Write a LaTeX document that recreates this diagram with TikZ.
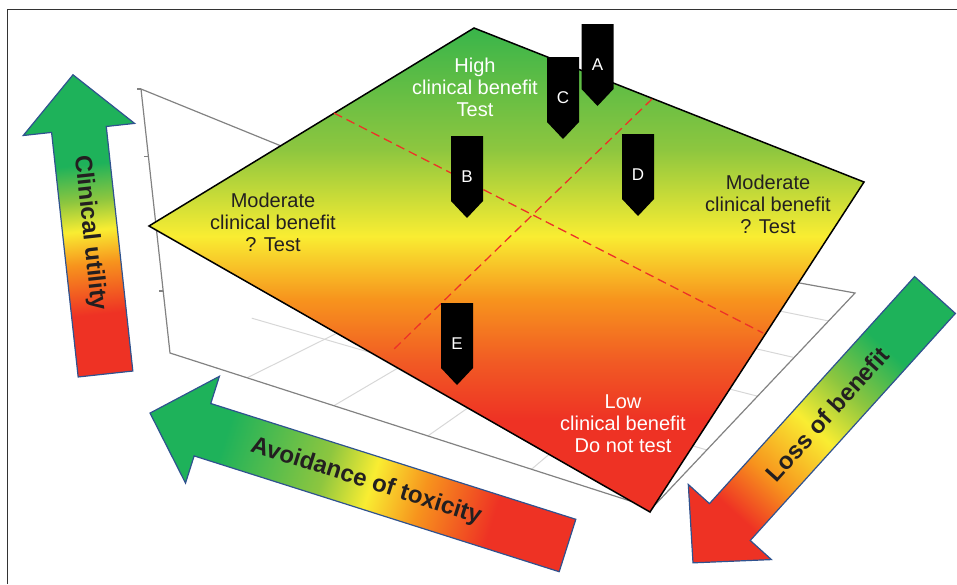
\documentclass[tikz,border=0pt]{standalone}
\usepackage{fontspec}
\setmainfont{Liberation Sans}
\usetikzlibrary{calc}

\definecolor{zonegreen}{RGB}{57,181,74}
\definecolor{arrowgreen}{RGB}{30,178,90}
\definecolor{limegreen}{RGB}{141,198,63}
\definecolor{zoneyellow}{RGB}{249,237,50}
\definecolor{zoneorange}{RGB}{247,148,29}
\definecolor{darkorange}{RGB}{241,90,36}
\definecolor{zonered}{RGB}{238,50,36}
\definecolor{outlineblue}{RGB}{47,82,143}
\definecolor{boxgray}{RGB}{130,130,130}
\definecolor{gridgray}{RGB}{215,215,215}
\definecolor{textdark}{RGB}{35,31,32}
\definecolor{dashred}{RGB}{237,50,40}

% shadings (plane: bottom to top, arrows: tail to tip)
\pgfdeclareverticalshading{planeshade}{100bp}{color(0bp)=(zonered); color(34.5bp)=(zonered); color(40.5bp)=(darkorange); color(47bp)=(zoneorange); color(53.5bp)=(zoneyellow); color(62.5bp)=(limegreen); color(75bp)=(zonegreen); color(100bp)=(zonegreen)}
\pgfdeclarehorizontalshading{utilshade}{100bp}{color(0bp)=(zonered); color(35bp)=(zonered); color(43.5bp)=(zoneorange); color(49bp)=(zoneyellow); color(54bp)=(limegreen); color(60bp)=(arrowgreen); color(100bp)=(arrowgreen)}
\pgfdeclarehorizontalshading{toxshade}{100bp}{color(0bp)=(zonered); color(34bp)=(zonered); color(42.5bp)=(zoneorange); color(48.5bp)=(zoneyellow); color(54bp)=(limegreen); color(66bp)=(arrowgreen); color(100bp)=(arrowgreen)}
\pgfdeclarehorizontalshading{lossshade}{100bp}{color(0bp)=(arrowgreen); color(35bp)=(arrowgreen); color(43bp)=(limegreen); color(50bp)=(zoneyellow); color(59bp)=(zoneorange); color(66bp)=(zonered); color(100bp)=(zonered)}

% block arrow: tail, angle, length, shading
\newcommand{\bigarrow}[4]{%
  \begin{scope}[transform canvas={shift={(#1)}, rotate=#2}]
    \shadedraw[shading=#4, draw=outlineblue, line width=1.2pt]
      (0,-27.5) -- ({#3-55},-27.5) -- ({#3-55},-56) -- (#3,0) -- ({#3-55},56) -- ({#3-55},27.5) -- (0,27.5) -- cycle;
  \end{scope}
}

% black flag marker: name, label position, letter
\newcommand{\flag}[3]{%
  \fill[black] (#2) ++(-16,-41) -- ++(32,0) -- ++(0,65) -- ++(-16,17) -- ++(-16,-17) -- cycle;
  \node[flagtext] (#1) at (#2) {#3};
}

\begin{document}
\begin{tikzpicture}[x=1pt, y=-1pt,
    boxline/.style={boxgray, line width=1.2pt},
    gridline/.style={gridgray, line width=1pt},
    dashline/.style={dashred, line width=1.3pt, dash pattern=on 9pt off 5pt},
    zonetext/.style={align=center, font=\fontsize{20}{22}\selectfont},
    flagtext/.style={text=white, font=\fontsize{17}{17}\selectfont},
    arrowtext/.style={text=textdark, font=\bfseries\fontsize{24}{24}\selectfont}]

  \useasboundingbox (0,0) rectangle (957,584);

  % frame
  \draw[line width=1pt, black!80] (7,584) -- (7,9) -- (957,9);

  % axes box
  \coordinate (axtop) at (141,89);
  \coordinate (fl) at (170,353);
  \coordinate (fr) at (652,508);
  \coordinate (br) at (855,293);
  \coordinate (bl) at (473,224);
  \foreach \u in {0.16,0.34,0.535,0.75}
    \draw[gridline] ($(fl)!\u!(fr)$) -- ($(bl)!\u!(br)$);
  \foreach \v in {0.27,0.52,0.70,0.87}
    \draw[gridline] ($(fl)!\v!(bl)$) -- ($(fr)!\v!(br)$);
  \draw[boxline] (axtop) -- (fl) -- (fr) -- (br) -- (bl) -- cycle;
  \foreach \t in {0,0.255,0.51,0.765}
    \draw[boxline] ($(axtop)!\t!(fl)$) -- ++(-4,0);

  % decision plane
  \coordinate (ptop) at (474,28);
  \coordinate (pright) at (864,182);
  \coordinate (pbottom) at (650,512);
  \coordinate (pleft) at (149,226);
  \shadedraw[shading=planeshade, draw=black, line width=1.5pt]
    (ptop) -- (pright) -- (pbottom) -- (pleft) -- cycle;

  % quadrant borders
  \coordinate (d1a) at (334,113);
  \coordinate (d1b) at (763,333);
  \coordinate (d2a) at (652,99);
  \coordinate (d2b) at (392,351);
  \draw[dashline] (d1a) -- (d1b);
  \draw[dashline] (d2a) -- (d2b);

  % zone labels
  \node[zonetext, text=white] (high) at (475,87) {High\\clinical benefit\\Test};
  \node[zonetext, text=textdark] (modleft) at (273,222) {Moderate\\clinical benefit\\? Test};
  \node[zonetext, text=textdark] (modright) at (768,204) {Moderate\\clinical benefit\\? Test};
  \node[zonetext, text=white] (low) at (623,424) {Low\\clinical benefit\\Do not test};

  % markers
  \flag{markA}{597.5,65}{A}
  \flag{markC}{563,98}{C}
  \flag{markB}{467,177}{B}
  \flag{markD}{638,175}{D}
  \flag{markE}{457,344}{E}

  % direction arrows
  \bigarrow{105.5,374}{96.2}{301}{utilshade}
  \bigarrow{567.5,545.5}{162.4}{438}{toxshade}
  \bigarrow{935,295}{227.9}{361}{lossshade}
  \node[arrowtext, rotate=-83.8] (utility) at (89.5,233) {Clinical utility};
  \node[arrowtext, rotate=-17.6] (toxicity) at (366,481.5) {Avoidance of toxicity};
  \node[arrowtext, rotate=48] (loss) at (827.5,414) {Loss of benefit};

\end{tikzpicture}
\end{document}
